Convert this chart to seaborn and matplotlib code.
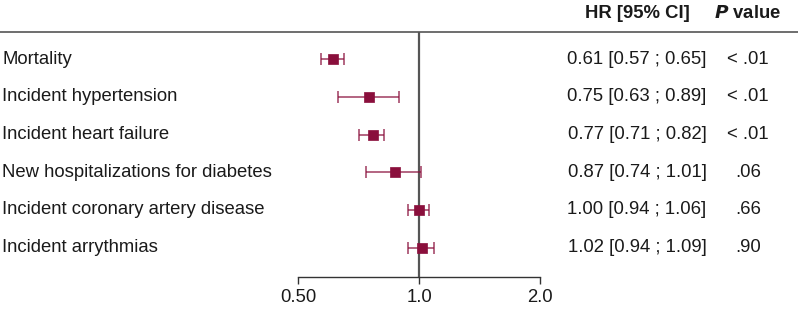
"""Forest plot of hazard ratios for outcomes."""

import matplotlib

matplotlib.use("Agg")
import matplotlib.pyplot as plt
import numpy as np
import pandas as pd
import seaborn as sns
from matplotlib.ticker import FixedLocator, NullLocator

# Data
outcomes = [
    "Mortality",
    "Incident hypertension",
    "Incident heart failure",
    "New hospitalizations for diabetes",
    "Incident coronary artery disease",
    "Incident arrythmias",
]
hr = [0.61, 0.75, 0.77, 0.87, 1.00, 1.02]
ci_low = [0.57, 0.63, 0.71, 0.74, 0.94, 0.94]
ci_high = [0.65, 0.89, 0.82, 1.01, 1.06, 1.09]
p_values = ["< .01", "< .01", "< .01", ".06", ".66", ".90"]
x_ticks = [0.5, 1.0, 2.0]
x_tick_labels = ["0.50", "1.0", "2.0"]

df = pd.DataFrame(
    {"outcome": outcomes, "hr": hr, "low": ci_low, "high": ci_high, "p": p_values}
)
df["row"] = np.arange(len(df))

sns.set_style("white")
plt.rcParams["font.family"] = ["Liberation Sans", "DejaVu Sans"]
fs = 13.3
marker_color = "#8a0f3c"
text_color = "#1a1a1a"

W, H = 798, 309
fig = plt.figure(figsize=(W / 100, H / 100), dpi=100)
# axes placed in pixel coordinates: x 298..540, y 32..277 (from top)
ax = fig.add_axes([298 / W, 1 - 277 / H, (540 - 298) / W, (277 - 32) / H])
ax.patch.set_alpha(0)

# Whiskers
ax.errorbar(
    df["hr"],
    df["row"],
    xerr=[df["hr"] - df["low"], df["high"] - df["hr"]],
    fmt="none",
    ecolor=marker_color,
    alpha=0.75,
    elinewidth=1.2,
    capsize=4,
    capthick=1.2,
    zorder=3,
)
# Points
sns.scatterplot(
    data=df,
    x="hr",
    y="row",
    marker="s",
    s=60,
    color=marker_color,
    edgecolor=marker_color,
    linewidth=0.5,
    ax=ax,
    zorder=4,
    legend=False,
)

ax.axvline(1.0, color="#555555", lw=1.6, zorder=2)

ax.set_xscale("log")
ax.set_xlim(0.5, 2.0)
ax.set_ylim(5.78, -0.72)
ax.xaxis.set_major_locator(FixedLocator(x_ticks))
ax.xaxis.set_minor_locator(NullLocator())
ax.set_xticklabels(x_tick_labels, fontsize=fs)
ax.tick_params(axis="x", bottom=True, length=5, width=1, color="#333333",
               labelcolor=text_color, pad=4)
ax.set_yticks([])
ax.set_xlabel("")
ax.set_ylabel("")
for side in ["top", "left", "right"]:
    ax.spines[side].set_visible(False)
ax.spines["bottom"].set_color("#333333")
ax.spines["bottom"].set_linewidth(1)

# Text columns in figure pixel x, data y
trans_lbl = matplotlib.transforms.blended_transform_factory(fig.transFigure, ax.transData)
for _, r in df.iterrows():
    ax.text(2 / W, r["row"], r["outcome"], transform=trans_lbl, ha="left",
            va="center", fontsize=fs, color=text_color)
    ax.text(637 / W, r["row"], f"{r['hr']:.2f} [{r['low']:.2f} ; {r['high']:.2f}]",
            transform=trans_lbl, ha="center", va="center", fontsize=fs,
            color=text_color)
    ax.text(748 / W, r["row"], r["p"], transform=trans_lbl, ha="center",
            va="center", fontsize=fs, color=text_color)

# Header
fig.text(637 / W, 1 - 14 / H, "HR [95% CI]", ha="center", va="center",
         fontsize=fs, fontweight="bold", color=text_color)
fig.text(748 / W, 1 - 14 / H, r"$\boldsymbol{P}$ value", ha="center", va="center",
         fontsize=fs, fontweight="bold", color=text_color)
fig.add_artist(plt.Line2D([0, 1], [1 - 32 / H, 1 - 32 / H], color="#555555",
                          lw=1.2, transform=fig.transFigure))

fig.savefig("out.png", dpi=100)
